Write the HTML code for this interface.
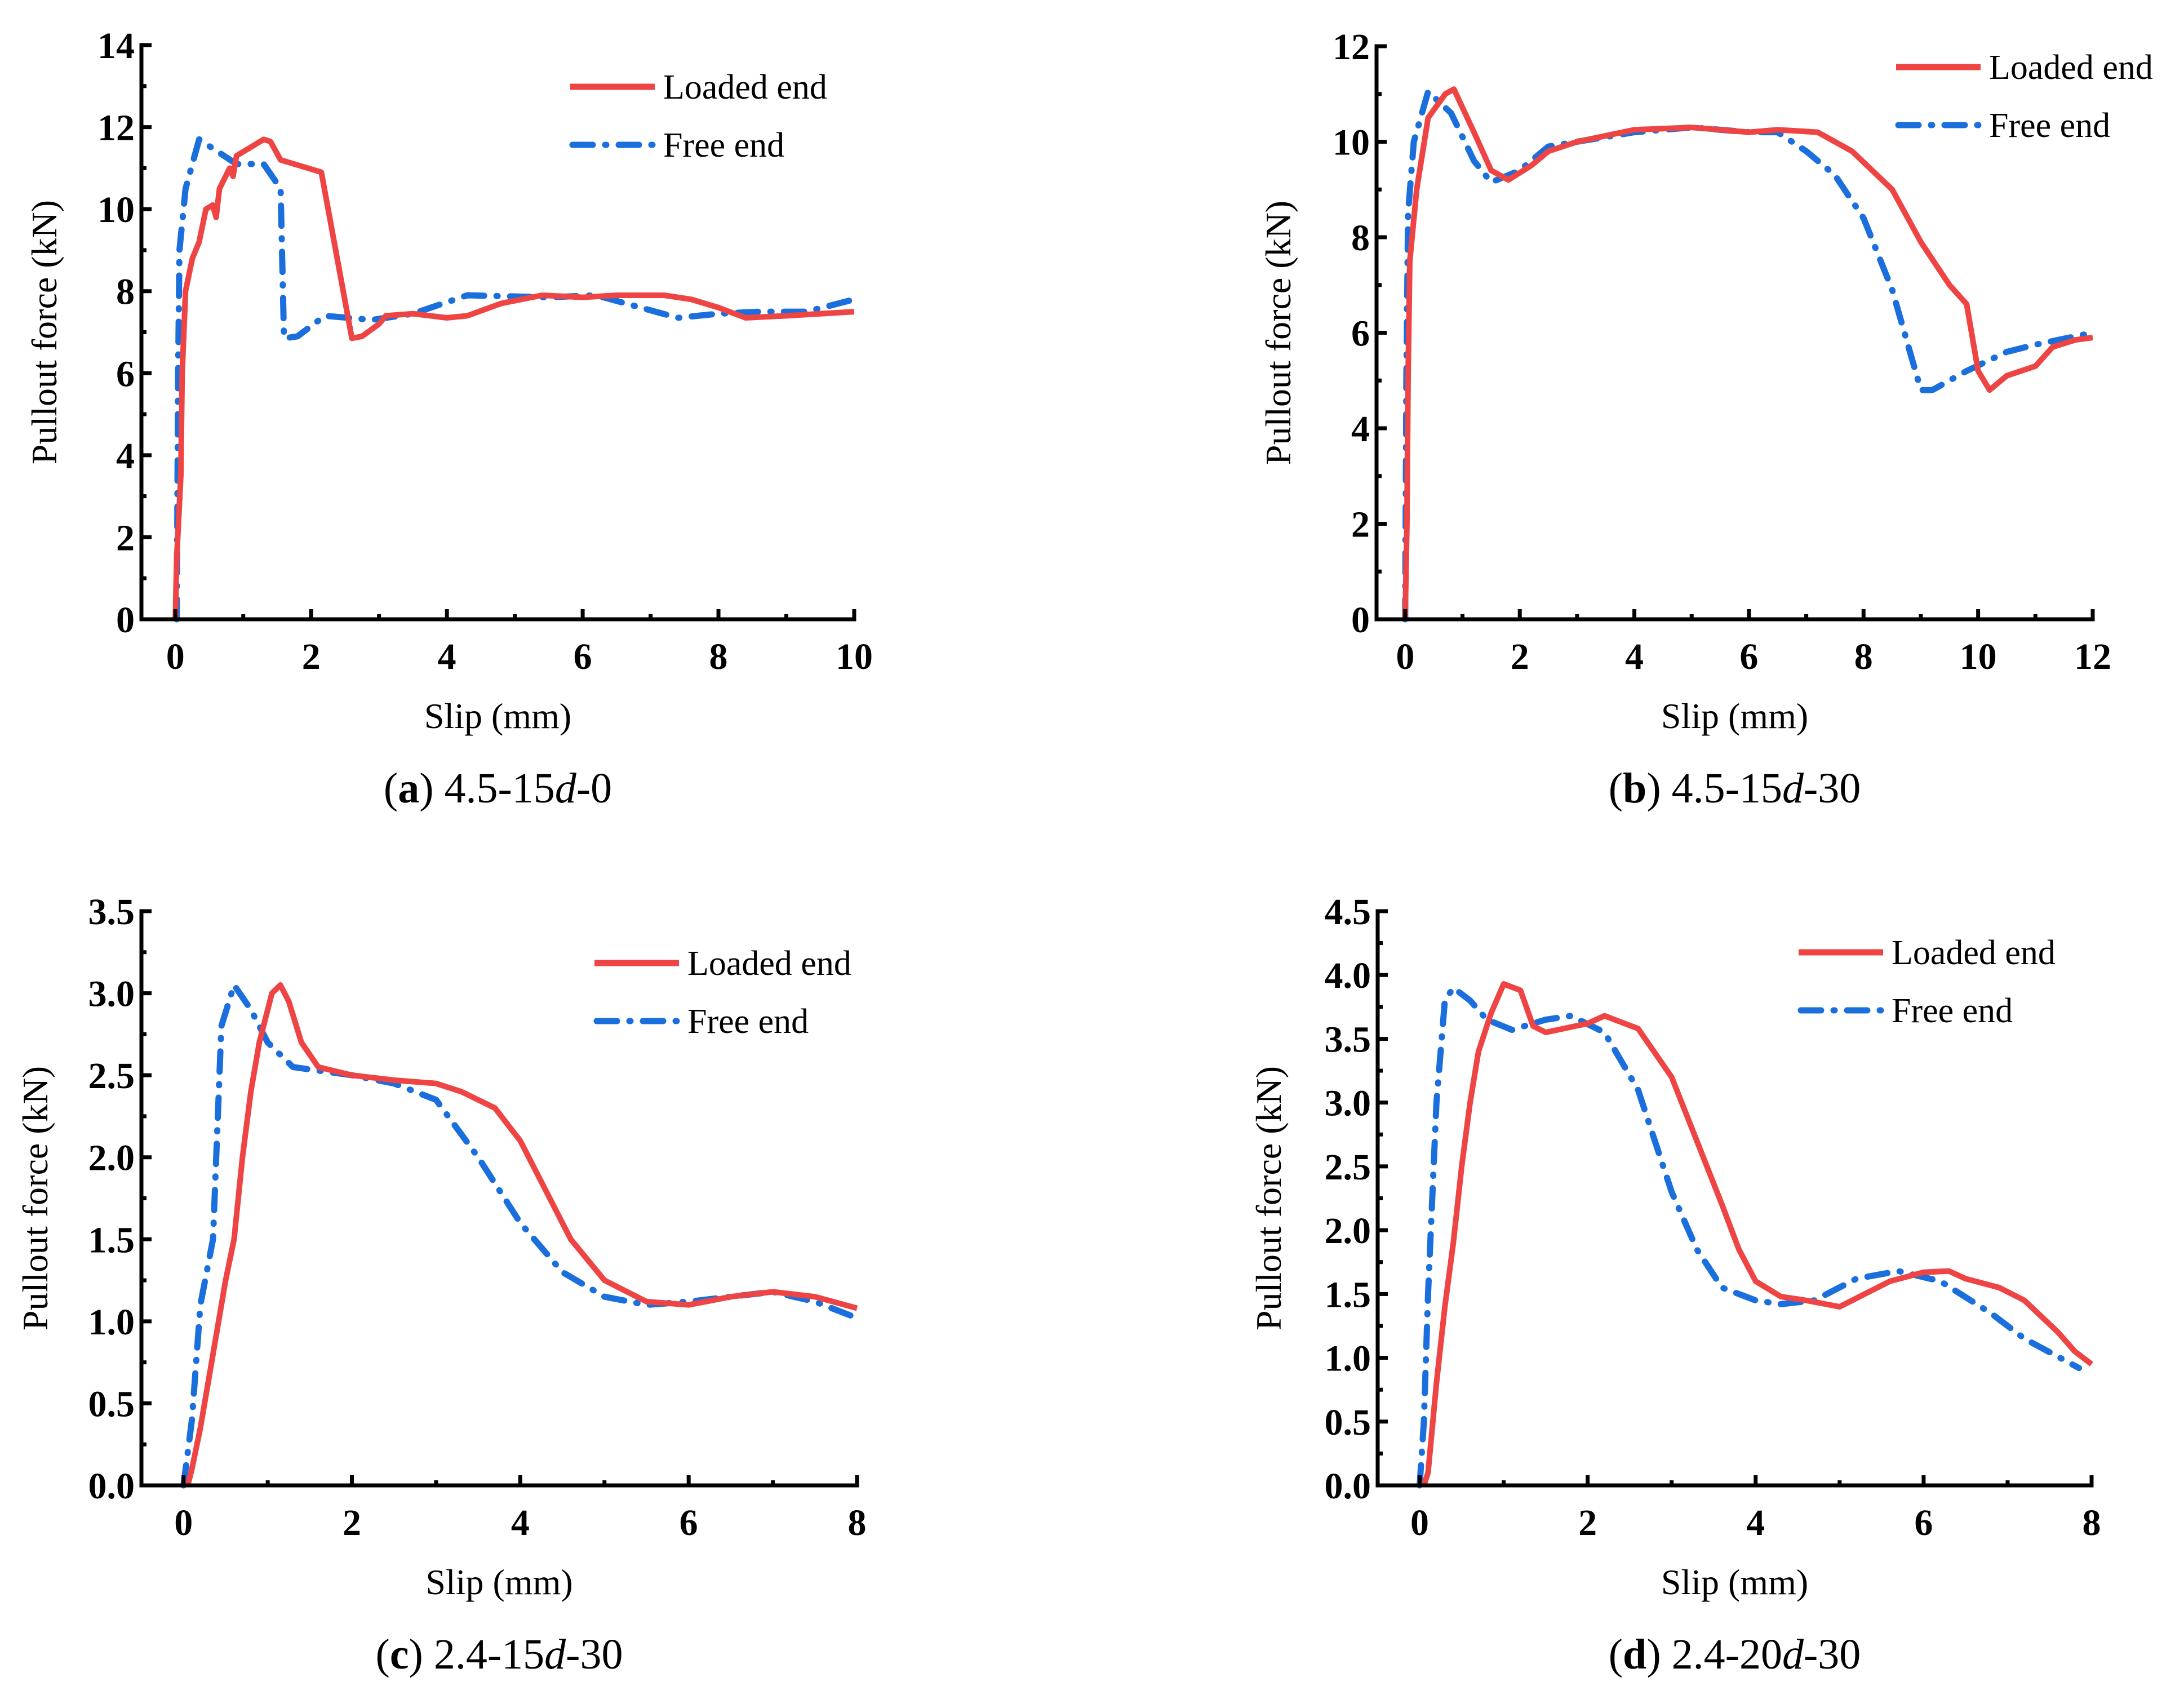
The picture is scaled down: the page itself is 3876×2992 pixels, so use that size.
<!DOCTYPE html>
<html><head><meta charset="utf-8">
<style>
html,body{margin:0;padding:0;background:#fff;}
svg{display:block;}
text{font-family:"Liberation Serif",serif;fill:#000;}
</style></head>
<body>
<svg id="fig" width="3876" height="2992" viewBox="0 0 3876 2992" xmlns="http://www.w3.org/2000/svg"></svg>
<script>
// Panel (a) data
const aLoadedX = [0,0.02,0.05,0.08,0.1,0.15,0.25,0.35,0.45,0.55,0.6,0.65,0.8,0.85,0.9,1.1,1.3,1.4,1.55,2.15,2.6,2.75,3.0,3.1,3.5,4,4.3,4.8,5.4,6,6.5,7.2,7.6,8,8.4,9,9.5,10];
const aLoadedY = [0,1.5,2.5,3.5,6,8,8.8,9.2,10,10.1,9.8,10.5,11,10.8,11.3,11.5,11.7,11.65,11.2,10.9,6.85,6.9,7.2,7.4,7.45,7.35,7.4,7.7,7.9,7.85,7.9,7.9,7.8,7.6,7.35,7.4,7.45,7.5];
const aFreeX = [0.02,0.03,0.04,0.06,0.15,0.35,0.9,1.3,1.55,1.6,1.8,2.2,2.9,3.5,4.3,5.5,6.2,7.4,8,8.6,9.3,10];
const aFreeY = [0,3,6,9,10.5,11.7,11.1,11.1,10.5,6.85,6.9,7.4,7.3,7.45,7.9,7.85,7.9,7.35,7.45,7.5,7.5,7.8];
const aXTicks = [0,2,4,6,8,10];
const aYTicks = [0,2,4,6,8,10,12,14];
// Panel (b) data
const bLoadedX = [0,0.03,0.05,0.08,0.2,0.4,0.7,0.85,1.2,1.5,1.8,2.2,2.5,3,4,5,6,6.5,7.2,7.8,8.5,9,9.5,9.8,10,10.2,10.5,11,11.3,11.7,12];
const bLoadedY = [0,2,5,7.5,9,10.5,11,11.1,10.2,9.4,9.2,9.5,9.8,10,10.25,10.3,10.2,10.25,10.2,9.8,9,7.9,7,6.6,5.2,4.8,5.1,5.3,5.7,5.85,5.9];
const bFreeX = [0,0.02,0.05,0.15,0.4,0.8,1.2,1.5,2,2.5,3,4,5,6,6.5,7,7.5,8,8.5,9,9.2,9.8,10.5,11,12];
const bFreeY = [0,5,8.5,10,11.05,10.6,9.6,9.15,9.4,9.9,10,10.2,10.3,10.2,10.2,9.8,9.3,8.4,6.9,4.8,4.8,5.2,5.6,5.75,6];
const bXTicks = [0,2,4,6,8,10,12];
const bYTicks = [0,2,4,6,8,10,12];
// Panel (c) data
const cLoadedX = [0.05,0.1,0.2,0.35,0.5,0.6,0.7,0.8,0.9,1.05,1.15,1.25,1.4,1.6,2,2.5,3,3.3,3.7,4,4.3,4.6,5,5.5,6,6.5,7,7.5,8];
const cLoadedY = [0,0.1,0.35,0.8,1.25,1.5,2,2.4,2.7,3,3.05,2.95,2.7,2.55,2.5,2.47,2.45,2.4,2.3,2.1,1.8,1.5,1.25,1.12,1.1,1.15,1.18,1.15,1.08];
const cFreeX = [0,0.1,0.2,0.35,0.45,0.6,0.8,1,1.3,2,2.5,3,3.5,4,4.5,5,5.5,6,6.5,7,7.5,8];
const cFreeY = [0,0.4,1.1,1.5,2.8,3.05,2.9,2.7,2.55,2.5,2.45,2.35,2,1.6,1.3,1.15,1.1,1.12,1.15,1.18,1.12,1.02];
const cXTicks = [0,2,4,6,8];
const cYTicks = [0,0.5,1,1.5,2,2.5,3,3.5];
// Panel (d) data
const dLoadedX = [0.05,0.1,0.2,0.3,0.4,0.5,0.6,0.7,0.85,1,1.2,1.35,1.5,2,2.2,2.6,3,3.3,3.6,3.8,4,4.3,4.6,5,5.3,5.6,6,6.3,6.5,6.9,7.2,7.6,7.8,8];
const dLoadedY = [0,0.1,0.8,1.4,1.9,2.5,3,3.4,3.7,3.93,3.88,3.6,3.55,3.62,3.68,3.58,3.2,2.7,2.2,1.85,1.6,1.48,1.45,1.4,1.5,1.6,1.67,1.68,1.62,1.55,1.45,1.2,1.05,0.95];
const dFreeX = [0,0.05,0.1,0.2,0.3,0.4,0.6,0.8,1.1,1.5,1.8,2.2,2.6,3,3.3,3.6,4,4.3,4.7,5.2,5.7,6.2,6.8,7.2,7.85];
const dFreeY = [0,0.5,1.5,3,3.8,3.9,3.8,3.65,3.57,3.65,3.68,3.55,3.1,2.3,1.85,1.55,1.45,1.42,1.45,1.62,1.68,1.6,1.35,1.15,0.92];
const dXTicks = [0,2,4,6,8];
const dYTicks = [0,0.5,1,1.5,2,2.5,3,3.5,4,4.5];

const NS = "http://www.w3.org/2000/svg";
const svg = document.getElementById('fig');
function mk(tag, attrs, parent){
  const e = document.createElementNS(NS, tag);
  for (const k in attrs) e.setAttribute(k, attrs[k]);
  (parent||svg).appendChild(e);
  return e;
}
const RED = '#ef4444', BLUE = '#1a6fdc';

function panel(p){
  const g = mk('g', {});
  
  
  const sx = v => p.x0 + (v - p.xmin) / (p.xmax - p.xmin) * (p.x1 - p.x0);
  const sy = v => p.y0 - (v - p.ymin) / (p.ymax - p.ymin) * (p.y0 - p.y1);
  const dLoaded = p.lx.map((v,i)=>(i?'L':'M')+sx(v).toFixed(1)+','+sy(p.ly[i]).toFixed(1)).join('');
  const dFree = p.fx.map((v,i)=>(i?'L':'M')+sx(v).toFixed(1)+','+sy(p.fy[i]).toFixed(1)).join('');
  const free = mk('path', {d:dFree, fill:'none', stroke:BLUE, 'stroke-width':11, 'stroke-dasharray':'36 22 2 22', 'stroke-linecap':'round', 'stroke-linejoin':'round'}, g);
  
  
  const loaded = mk('path', {d:dLoaded, fill:'none', stroke:RED, 'stroke-width':10, 'stroke-linejoin':'round'}, g);
  
  
  const ax = mk('path', {d:`M${p.ax},${p.y1}L${p.ax},${p.y0}L${p.x1},${p.y0}`, fill:'none', stroke:'#000', 'stroke-width':7, 'stroke-linecap':'square'}, g);
  
  
  p.xt.forEach((v,i)=>{
    const X = sx(v);
    mk('line', {x1:X, x2:X, y1:p.y0, y2:p.y0-18, stroke:'#000', 'stroke-width':7}, g);
    if (i < p.xt.length-1){
      const m = sx((v + p.xt[i+1])/2);
      mk('line', {x1:m, x2:m, y1:p.y0, y2:p.y0-9, stroke:'#000', 'stroke-width':7}, g);
    }
    const t = mk('text', {x:X, y:p.y0+88, 'text-anchor':'middle', 'font-size':66, 'font-weight':'bold'}, g);
    
    
    t.textContent = String(v);
  });
  p.yt.forEach((v,i)=>{
    const Y = sy(v);
    mk('line', {x1:p.ax, x2:p.ax+18, y1:Y, y2:Y, stroke:'#000', 'stroke-width':7}, g);
    if (i < p.yt.length-1){
      const m = sy((v + p.yt[i+1])/2);
      mk('line', {x1:p.ax, x2:p.ax+9, y1:m, y2:m, stroke:'#000', 'stroke-width':7}, g);
    }
    const t = mk('text', {x:p.ax-12, y:Y+23, 'text-anchor':'end', 'font-size':66, 'font-weight':'bold'}, g);
    
    
    t.textContent = p.dec ? v.toFixed(1) : String(v);
  });
  const cx = (p.ax + p.x1)/2, cy = (p.y0 + p.y1)/2;
  const xt = mk('text', {x:cx, y:p.y0+193, 'text-anchor':'middle', 'font-size':64}, g);
  
  
  xt.textContent = 'Slip (mm)';
  const yt = mk('text', {x:0, y:0, 'text-anchor':'middle', 'font-size':64, transform:`translate(${p.ytx},${cy}) rotate(-90)`}, g);
  
  
  yt.textContent = 'Pullout force (kN)';
  const cap = mk('text', {x:cx, y:p.y0+325, 'text-anchor':'middle', 'font-size':76}, g);
  
  
  cap.innerHTML = '(<tspan font-weight="bold">' + p.id + '</tspan>) ' + p.cap1 + '<tspan font-style="italic">d</tspan>' + p.cap2;
  const l1 = mk('line', {x1:p.lgx, x2:p.lgx+150, y1:p.lgy, y2:p.lgy, stroke:RED, 'stroke-width':11}, g);
  
  
  const t1 = mk('text', {x:p.lgx+165, y:p.lgy+21, 'font-size':62}, g);
  
  
  t1.textContent = 'Loaded end';
  const l2 = mk('line', {x1:p.lgx+4, x2:p.lgx+150, y1:p.lgy+103, y2:p.lgy+103, stroke:BLUE, 'stroke-width':11, 'stroke-dasharray':'36 22 2 22', 'stroke-linecap':'round'}, g);
  
  
  const t2 = mk('text', {x:p.lgx+165, y:p.lgy+124, 'font-size':62}, g);
  
  
  t2.textContent = 'Free end';
}

panel({id:'a', ax:251, x0:251, x1:1516, xmin:-0.5, xmax:10, y0:1099, y1:80, ymin:0, ymax:14,
  lx:aLoadedX, ly:aLoadedY, fx:aFreeX, fy:aFreeY, xt:aXTicks, yt:aYTicks, dec:false,
  ytx:100, lgx:1012, lgy:154, cap1:'4.5-15', cap2:'-0'});
panel({id:'b', ax:2443, x0:2443, x1:3714, xmin:-0.5, xmax:12, y0:1099, y1:82, ymin:0, ymax:12,
  lx:bLoadedX, ly:bLoadedY, fx:bFreeX, fy:bFreeY, xt:bXTicks, yt:bYTicks, dec:false,
  ytx:2290, lgx:3365, lgy:119, cap1:'4.5-15', cap2:'-30'});
panel({id:'c', ax:251, x0:251, x1:1521, xmin:-0.5, xmax:8, y0:2636, y1:1617, ymin:0, ymax:3.5,
  lx:cLoadedX, ly:cLoadedY, fx:cFreeX, fy:cFreeY, xt:cXTicks, yt:cYTicks, dec:true,
  ytx:84, lgx:1055, lgy:1709, cap1:'2.4-15', cap2:'-30'});
panel({id:'d', ax:2445, x0:2445, x1:3712, xmin:-0.5, xmax:8, y0:2636, y1:1617, ymin:0, ymax:4.5,
  lx:dLoadedX, ly:dLoadedY, fx:dFreeX, fy:dFreeY, xt:dXTicks, yt:dYTicks, dec:true,
  ytx:2273, lgx:3192, lgy:1690, cap1:'2.4-20', cap2:'-30'});
</script>
</body></html>
